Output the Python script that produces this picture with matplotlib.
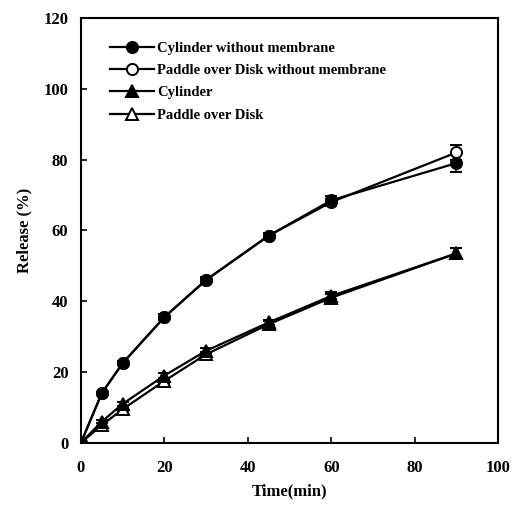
import matplotlib
matplotlib.use("Agg")
import matplotlib.pyplot as plt
from matplotlib.lines import Line2D

plt.rcParams['font.family'] = ['Liberation Serif', 'DejaVu Serif']
plt.rcParams['font.weight'] = 'bold'

time = [0, 5, 10, 20, 30, 45, 60, 90]
cyl_nomem = [0, 14, 22.5, 35.5, 46, 58.5, 68.5, 79]
cyl_nomem_err = [0, 0.5, 0.5, 0.8, 0.8, 0.8, 1.2, 2.5]
pad_nomem = [0, 14, 22.5, 35.5, 46, 58.5, 68, 82]
pad_nomem_err = [0, 0.5, 0.5, 0.8, 0.8, 0.8, 1.0, 2.0]
cyl = [0, 6, 11, 19, 26, 34, 41.5, 53.5]
cyl_err = [0, 0.5, 0.5, 0.8, 0.8, 0.8, 1.0, 1.5]
pad = [0, 5, 9.5, 17.5, 25, 33.5, 41, 53.5]
pad_err = [0, 0.5, 0.5, 0.8, 0.8, 0.8, 1.0, 1.5]
labels = ['Cylinder without membrane', 'Paddle over Disk without membrane',
          'Cylinder', 'Paddle over Disk']

fig = plt.figure(figsize=(5.12, 5.12), dpi=100)
ax = fig.add_axes([0.158, 0.135, 0.815, 0.83])

kw = dict(color='black', lw=1.6, ms=8, capsize=4, elinewidth=1.2, mew=1.4)
# open markers first so the filled ones sit on top
ax.errorbar(time, pad_nomem, yerr=pad_nomem_err, marker='o', mfc='white', **kw)
ax.errorbar(time, cyl_nomem, yerr=cyl_nomem_err, marker='o', mfc='black', **kw)
ax.errorbar(time, pad, yerr=pad_err, marker='^', mfc='white', **kw)
ax.errorbar(time, cyl, yerr=cyl_err, marker='^', mfc='black', **kw)

ax.set_xlim(0, 100)
ax.set_ylim(0, 120)
ax.set_xticks([0, 20, 40, 60, 80, 100])
ax.set_yticks([0, 20, 40, 60, 80, 100, 120])
ax.tick_params(direction='in', length=4, labelsize=12, width=1.2)
ax.tick_params(axis='x', pad=12)
ax.tick_params(axis='y', pad=9)
for s in ax.spines.values():
    s.set_linewidth(1.5)
ax.set_xlabel('Time(min)', fontsize=12, fontweight='bold', labelpad=6)
ax.set_ylabel('Release (%)', fontsize=12, fontweight='bold', labelpad=8)

handles = [Line2D([], [], color='black', lw=1.6, marker='o', ms=8, mfc='black', mew=1.4),
           Line2D([], [], color='black', lw=1.6, marker='o', ms=8, mfc='white', mew=1.4),
           Line2D([], [], color='black', lw=1.6, marker='^', ms=8, mfc='black', mew=1.4),
           Line2D([], [], color='black', lw=1.6, marker='^', ms=8, mfc='white', mew=1.4)]
ax.legend(handles, labels, loc='upper left', bbox_to_anchor=(0.07, 0.944),
          frameon=False, fontsize=10.5, handlelength=3.0, handletextpad=0.2,
          labelspacing=0.62, borderaxespad=0, borderpad=0)

fig.savefig('out.png', dpi=100)
